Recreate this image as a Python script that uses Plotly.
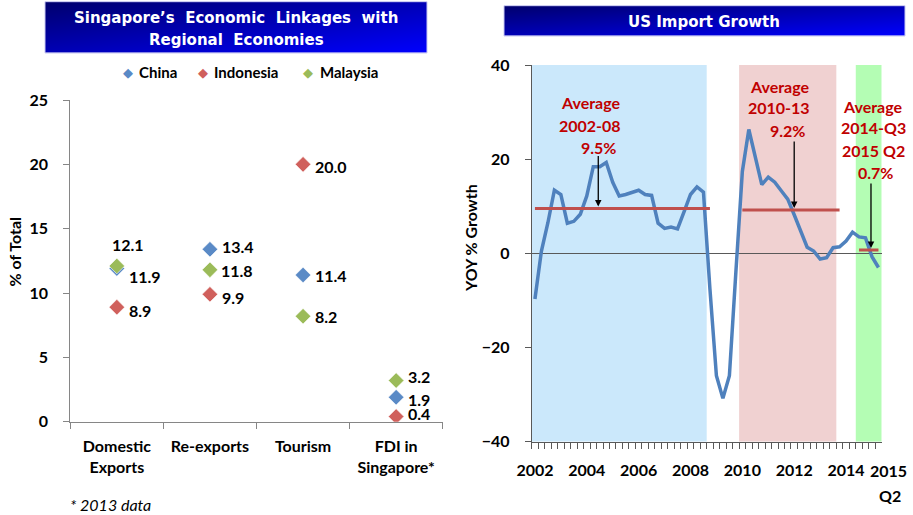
import plotly.graph_objects as go

W, H = 913, 515

# ---------------- Left chart data ----------------
categories = ["Domestic<br>Exports", "Re-exports", "Tourism", "FDI in<br>Singapore*"]
china = [11.9, 13.4, 11.4, 1.9]
indonesia = [8.9, 9.9, 20.0, 0.4]
malaysia = [12.1, 11.8, 8.2, 3.2]
series_names = ["China", "Indonesia", "Malaysia"]
series_colors = ["#5a8ac6", "#d0605c", "#9bbb59"]

# ---------------- Right chart data ----------------
quarters = [f"{y}Q{q}" for y in range(2002, 2016) for q in range(1, 5)][:54]
us_import_growth = [
    -9.7, 0.5, 6.5, 13.4, 12.5, 6.4, 6.8, 8.3, 12.2, 18.4,
    18.4, 19.3, 15.1, 12.2, 12.5, 12.9, 13.4, 12.5, 12.3, 6.4,
    5.3, 5.6, 5.2, 8.8, 12.5, 14.1, 13.0, -7.6, -26.0, -30.8,
    -26.0, -4.0, 17.4, 26.3, 20.6, 14.6, 16.2, 15.1, 13.3, 11.5,
    8.2, 4.5, 1.3, 0.5, -1.2, -0.9, 1.2, 1.4, 2.6, 4.5,
    3.5, 3.3, -0.7, -3.0,
]
tick_quarters = ["2002Q1", "2004Q1", "2006Q1", "2008Q1", "2010Q1", "2012Q1", "2014Q1"]
tick_labels = ["2002", "2004", "2006", "2008", "2010", "2012", "2014"]
shade_start = ["2002Q1", "2010Q1", "2014Q3"]
shade_end = ["2008Q3", "2013Q3", "2015Q2"]
shade_colors = ["#cbe8fb", "#f0d1d1", "#b4fdb4"]
avg_start = ["2002Q1", "2010Q1", "2014Q3"]
avg_end = ["2008Q4", "2013Q4", "2015Q2"]
avg_values = [9.5, 9.2, 0.7]
avg_text = [["Average", "2002-08", "9.5%"],
            ["Average", "2010-13", "9.2%"],
            ["Average", "2014-Q3", "2015 Q2", "0.7%"]]


def px(x):
    return x / W


def py(y):
    return 1 - y / H


BOLD = dict(family="Lato", size=16, color="black", weight="bold")

fig = go.Figure()

# ---- Left scatter ----
for name, vals, col in zip(series_names, [china, indonesia, malaysia], series_colors):
    fig.add_trace(go.Scatter(
        x=categories, y=vals, mode="markers", name=name,
        marker=dict(symbol="diamond", size=12, color=col,
                    line=dict(color="rgba(255,255,255,0.6)", width=1)),
        xaxis="x", yaxis="y", showlegend=False, hoverinfo="skip"))

# ---- Right line ----
fig.add_trace(go.Scatter(
    x=quarters, y=us_import_growth, mode="lines",
    line=dict(color="#4f81bd", width=3.5), xaxis="x2", yaxis="y2",
    showlegend=False, hoverinfo="skip"))
for s, e, v in zip(avg_start, avg_end, avg_values):
    fig.add_trace(go.Scatter(
        x=[s, e], y=[v, v], mode="lines",
        line=dict(color="#c0504d", width=3), xaxis="x2", yaxis="y2",
        showlegend=False, hoverinfo="skip"))

# ---- Gradient title boxes (heatmaps) ----
for xa, ya in [("x3", "y3"), ("x4", "y4")]:
    fig.add_trace(go.Heatmap(
        z=[[1, 2], [0, 1]], x=[0, 1], y=[0, 1], zsmooth="best",
        colorscale=[[0, "#00006e"], [1, "#0000ff"]], showscale=False,
        xaxis=xa, yaxis=ya, hoverinfo="skip"))

shapes = []
for s, e, c in zip(shade_start, shade_end, shade_colors):
    shapes.append(dict(type="rect", xref="x2", yref="y2", x0=s, x1=e,
                       x0shift=-0.5, x1shift=0.5, y0=-40, y1=40,
                       fillcolor=c, line=dict(width=0), layer="below"))
for (x0, x1, y0, y1) in [(45, 427, 1.7, 53), (504, 905, 5.7, 36)]:
    shapes.append(dict(type="rect", xref="paper", yref="paper",
                       x0=px(x0), x1=px(x1), y0=py(y1), y1=py(y0),
                       line=dict(color="#c8c8f2", width=1), fillcolor="rgba(0,0,0,0)"))

annotations = []
# data labels on left chart
label_shift = {  # (series, category index): (xanchor, xshift, yshift)
    (2, 0): ("center", 11, 22), (0, 0): ("left", 10, -8), (1, 0): ("left", 10, -3),
    (0, 1): ("left", 10, 3), (2, 1): ("left", 9, -1), (1, 1): ("left", 10, -3),
    (1, 2): ("left", 10, -2), (0, 2): ("left", 10, 0), (2, 2): ("left", 10, 0),
    (2, 3): ("left", 10, 4), (0, 3): ("left", 10, -2), (1, 3): ("left", 10, 3),
}
for si, vals in enumerate([china, indonesia, malaysia]):
    for ci, v in enumerate(vals):
        xa, xs, ys = label_shift.get((si, ci), ("left", 10, 0))
        annotations.append(dict(x=categories[ci], y=v, xref="x", yref="y",
                                text=f"{v:.1f}", showarrow=False, xanchor=xa,
                                xshift=xs, yshift=ys, font=BOLD))

# legend (manual)
for name, col, mx, tx in zip(series_names, series_colors, [127.7, 203, 308], [137, 212, 318]):
    annotations.append(dict(x=px(mx), y=py(72), xref="paper", yref="paper",
                            text="◆", showarrow=False, xanchor="center", yanchor="middle",
                            font=dict(family="DejaVu Sans", size=13, color=col)))
    annotations.append(dict(x=px(tx), y=py(72), xref="paper", yref="paper",
                            text=name, showarrow=False, xanchor="left", yanchor="middle",
                            font=dict(family="Lato", size=15, color="black", weight="bold")))

# titles
TFONT = dict(family="DejaVu Sans", size=15, color="white", weight="bold")
for txt, (x, y) in [("Singapore’s  Economic  Linkages  with", (236, 18)),
                    ("Regional  Economies", (236, 40)),
                    ("US Import Growth", (704, 22))]:
    annotations.append(dict(x=px(x), y=py(y), xref="paper", yref="paper", text=txt,
                            showarrow=False, xanchor="center", yanchor="middle", font=TFONT))

# axis titles
annotations.append(dict(x=px(14.5), y=py(252), xref="paper", yref="paper", text="% of Total",
                        textangle=-90, showarrow=False, xanchor="center", yanchor="middle", font=BOLD))
annotations.append(dict(x=px(470), y=py(238), xref="paper", yref="paper", text="YOY % Growth",
                        textangle=-90, showarrow=False, xanchor="center", yanchor="middle", font=BOLD))
# footnote
annotations.append(dict(x=px(68), y=py(504), xref="paper", yref="paper", text="* 2013 data",
                        showarrow=False, xanchor="left", yanchor="middle",
                        font=dict(family="Lato", size=16, color="black", style="italic")))
# last x label
annotations.append(dict(x=px(888), y=py(470), xref="paper", yref="paper", text="2015",
                        showarrow=False, xanchor="center", yanchor="middle", font=BOLD))
annotations.append(dict(x=px(890), y=py(495), xref="paper", yref="paper", text="Q2",
                        showarrow=False, xanchor="center", yanchor="middle", font=BOLD))

# callouts
RED = dict(family="Lato", size=16, color="#c00000", weight="bold")
callout_pos = [[(590, 103), (590, 125), (598, 147)],
               [(779, 86), (779, 108), (787, 130)],
               [(872, 106), (873, 128), (873, 150), (875, 172)]]
for lines, poss in zip(avg_text, callout_pos):
    for t, (x, y) in zip(lines, poss):
        annotations.append(dict(x=px(x), y=py(y), xref="paper", yref="paper", text=t,
                                showarrow=False, xanchor="center", yanchor="middle", font=RED))
arrow_at = [("2004Q2", 5, -54), ("2012Q1", 0, -70), ("2015Q1", -1, -68)]
for (q, xs, ay), v in zip(arrow_at, avg_values):
    annotations.append(dict(x=q, y=v, xref="x2", yref="y2", text="", showarrow=True,
                            ax=0, ay=ay, xshift=xs, standoff=2, arrowhead=2, arrowsize=1,
                            arrowwidth=1.3, arrowcolor="black"))

AX = "#868686"
fig.update_layout(
    width=W, height=H, margin=dict(l=0, r=0, t=0, b=0, pad=0, autoexpand=False),
    paper_bgcolor="white", plot_bgcolor="rgba(0,0,0,0)", showlegend=False,
    shapes=shapes, annotations=annotations,
    xaxis=dict(domain=[px(70.3), px(442.7)], anchor="y", type="category", range=[-0.5, 3.5],
               tickson="boundaries", ticks="outside", ticklen=6, tickcolor=AX,
               showline=True, linecolor=AX, showgrid=False, zeroline=False, automargin=False,
               tickfont=BOLD, ticklabelstandoff=10),
    yaxis=dict(domain=[py(421.7), py(100)], anchor="x", range=[0, 25], tickvals=[0, 5, 10, 15, 20, 25],
               ticks="outside", ticklen=6, tickcolor=AX, showline=True, linecolor=AX, automargin=False,
               showgrid=False, zeroline=False, tickfont=BOLD, ticklabelstandoff=12),
    xaxis2=dict(domain=[px(531.7), px(881.7)], anchor="y2", type="category", range=[-0.5, 53.5],
                categoryorder="array", categoryarray=quarters,
                tickmode="array", tickvals=quarters,
                ticktext=[tick_labels[tick_quarters.index(q)] if q in tick_quarters else "" for q in quarters],
                tickson="boundaries", ticks="outside", ticklen=6, tickcolor="#595959",
                showline=True, linecolor="#595959", showgrid=False, zeroline=False, automargin=False,
                tickfont=BOLD, ticklabelstandoff=14, tickangle=0),
    yaxis2=dict(domain=[py(441.7), py(65)], anchor="x2", range=[-40, 40], tickvals=[-40, -20, 0, 20, 40],
                ticks="outside", ticklen=6, tickcolor="#595959", showline=True, linecolor="#595959",
                showgrid=False, zeroline=True, zerolinecolor="#595959", zerolinewidth=1.3, automargin=False,
                tickfont=BOLD, ticklabelstandoff=12),
    xaxis3=dict(domain=[px(45), px(427)], anchor="y3", range=[0, 1], visible=False),
    yaxis3=dict(domain=[py(53), py(1.7)], anchor="x3", range=[0, 1], visible=False),
    xaxis4=dict(domain=[px(504), px(905)], anchor="y4", range=[0, 1], visible=False),
    yaxis4=dict(domain=[py(36), py(5.7)], anchor="x4", range=[0, 1], visible=False),
)

fig.write_html("out.html", config={"displayModeBar": False},
               post_script="document.body.style.margin='0';")
